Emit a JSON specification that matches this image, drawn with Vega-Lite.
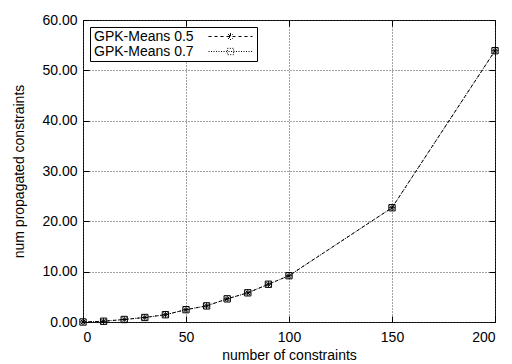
{
  "$schema": "https://vega.github.io/schema/vega-lite/v6.json",
  "width": 412,
  "height": 302,
  "autosize": "none",
  "padding": {"left": 83, "top": 20, "right": 17, "bottom": 42},
  "background": "white",
  "config": {
    "font": "Liberation Sans",
    "view": {"stroke": "black", "strokeWidth": 1},
    "axis": {
      "labelFont": "Liberation Sans",
      "titleFont": "Liberation Sans",
      "labelFontSize": 14,
      "titleFontSize": 14,
      "titleFontWeight": "normal",
      "labelColor": "black",
      "titleColor": "black",
      "domain": false,
      "tickColor": "black",
      "tickSize": -6,
      "gridColor": "#444",
      "gridDash": [1, 2],
      "gridOpacity": 1
    }
  },
  "resolve": {"scale": {"x": "independent", "y": "independent"}},
  "data": {
    "values": [
      {"n": 0, "v": 0.0, "s": "GPK-Means 0.5"},
      {"n": 10, "v": 0.15, "s": "GPK-Means 0.5"},
      {"n": 20, "v": 0.5, "s": "GPK-Means 0.5"},
      {"n": 30, "v": 0.9, "s": "GPK-Means 0.5"},
      {"n": 40, "v": 1.45, "s": "GPK-Means 0.5"},
      {"n": 50, "v": 2.45, "s": "GPK-Means 0.5"},
      {"n": 60, "v": 3.2, "s": "GPK-Means 0.5"},
      {"n": 70, "v": 4.6, "s": "GPK-Means 0.5"},
      {"n": 80, "v": 5.8, "s": "GPK-Means 0.5"},
      {"n": 90, "v": 7.5, "s": "GPK-Means 0.5"},
      {"n": 100, "v": 9.2, "s": "GPK-Means 0.5"},
      {"n": 150, "v": 22.7, "s": "GPK-Means 0.5"},
      {"n": 200, "v": 53.9, "s": "GPK-Means 0.5"},
      {"n": 0, "v": 0.0, "s": "GPK-Means 0.7"},
      {"n": 10, "v": 0.15, "s": "GPK-Means 0.7"},
      {"n": 20, "v": 0.5, "s": "GPK-Means 0.7"},
      {"n": 30, "v": 0.9, "s": "GPK-Means 0.7"},
      {"n": 40, "v": 1.45, "s": "GPK-Means 0.7"},
      {"n": 50, "v": 2.45, "s": "GPK-Means 0.7"},
      {"n": 60, "v": 3.2, "s": "GPK-Means 0.7"},
      {"n": 70, "v": 4.6, "s": "GPK-Means 0.7"},
      {"n": 80, "v": 5.8, "s": "GPK-Means 0.7"},
      {"n": 90, "v": 7.5, "s": "GPK-Means 0.7"},
      {"n": 100, "v": 9.2, "s": "GPK-Means 0.7"},
      {"n": 150, "v": 22.7, "s": "GPK-Means 0.7"},
      {"n": 200, "v": 53.9, "s": "GPK-Means 0.7"}
    ]
  },
  "layer": [
    {
      "mark": {"type": "line", "color": "black", "strokeWidth": 1},
      "encoding": {
        "x": {
          "field": "n", "type": "quantitative",
          "scale": {"domain": [0, 200], "nice": false},
          "axis": {"orient": "bottom", "values": [0, 50, 100, 150, 200], "title": "number of constraints", "labelPadding": 14, "titlePadding": 4, "grid": true}
        },
        "y": {
          "field": "v", "type": "quantitative",
          "scale": {"domain": [0, 60], "nice": false},
          "axis": {"orient": "left", "values": [0, 10, 20, 30, 40, 50, 60], "format": ".2f", "title": "num propagated constraints", "labelPadding": 12, "titlePadding": 15, "grid": true}
        },
        "strokeDash": {
          "field": "s", "type": "nominal",
          "scale": {"domain": ["GPK-Means 0.5", "GPK-Means 0.7"], "range": [[3, 3], [1, 1.5]]},
          "legend": {
            "title": null,
            "orient": "top-left",
            "offset": 7,
            "strokeColor": "black",
            "fillColor": "white",
            "padding": 2,
            "cornerRadius": 0,
            "labelFont": "Liberation Sans",
            "labelFontSize": 14,
            "labelColor": "black",
            "symbolSize": 196,
            "symbolStrokeColor": "black",
            "symbolFillColor": "transparent",
            "symbolOpacity": 1,
            "symbolStrokeWidth": 1,
            "symbolOffset": 131,
            "labelOffset": -144,
            "rowPadding": 0
          }
        }
      }
    },
    {
      "transform": [{"filter": "datum.s == 'GPK-Means 0.5'"}],
      "mark": {"type": "point", "filled": false, "color": "black", "strokeWidth": 1, "size": 40, "opacity": 1, "shape": "M-1,0L1,0M0,-1L0,1M-0.7,-0.7L0.7,0.7M-0.7,0.7L0.7,-0.7"},
      "encoding": {
        "x": {"field": "n", "type": "quantitative", "scale": {"domain": [0, 200], "nice": false}, "axis": {"orient": "top", "labels": false, "grid": false, "title": null, "values": [0, 50, 100, 150, 200]}},
        "y": {"field": "v", "type": "quantitative", "scale": {"domain": [0, 60], "nice": false}, "axis": {"orient": "right", "labels": false, "grid": false, "title": null, "values": [0, 10, 20, 30, 40, 50, 60]}}
      }
    },
    {
      "transform": [{"filter": "datum.s == 'GPK-Means 0.7'"}],
      "mark": {"type": "point", "filled": false, "color": "black", "strokeWidth": 1, "size": 40, "opacity": 1, "shape": "square"},
      "encoding": {
        "x": {"field": "n", "type": "quantitative", "scale": {"domain": [0, 200], "nice": false}, "axis": null},
        "y": {"field": "v", "type": "quantitative", "scale": {"domain": [0, 60], "nice": false}, "axis": null}
      }
    },
    {
      "mark": {"type": "point", "filled": false, "color": "black", "strokeWidth": 1, "size": 0, "opacity": 0},
      "encoding": {
        "x": {"field": "n", "type": "quantitative", "scale": {"domain": [0, 200], "nice": false}, "axis": null},
        "y": {"field": "v", "type": "quantitative", "scale": {"domain": [0, 60], "nice": false}, "axis": null},
        "shape": {
          "field": "s", "type": "nominal",
          "scale": {"domain": ["GPK-Means 0.5", "GPK-Means 0.7"], "range": ["M-3.14,0L3.14,0M-0.5,0L0.5,0M0,-0.5L0,0.5M-0.35,-0.35L0.35,0.35M-0.35,0.35L0.35,-0.35", "M-3.14,0L3.14,0M-0.45,-0.45L0.45,-0.45L0.45,0.45L-0.45,0.45Z"]}
        }
      }
    }
  ]
}
